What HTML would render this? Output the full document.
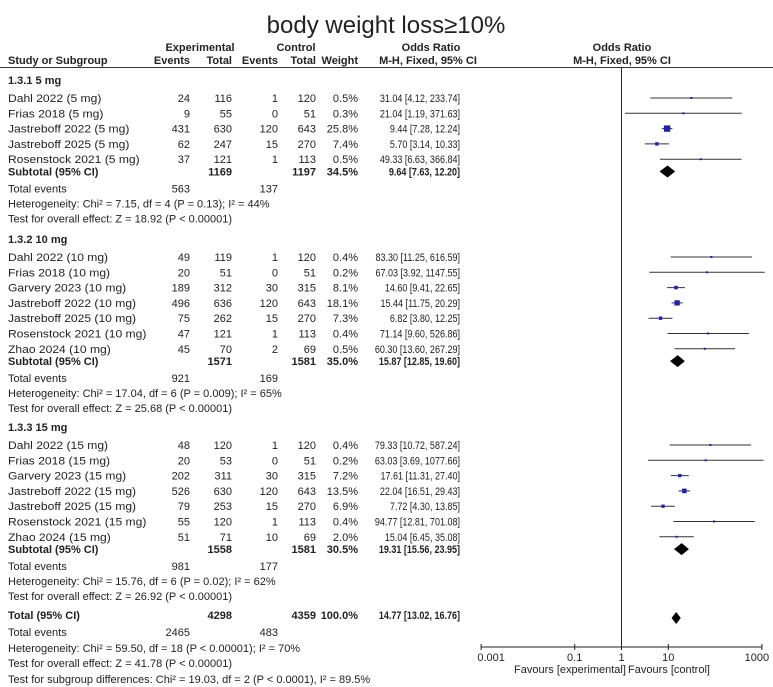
<!DOCTYPE html>
<html><head><meta charset="utf-8"><style>
body{margin:0;background:#fff;}
svg{display:block;font-family:"Liberation Sans",Arial,sans-serif;}
</style></head><body>
<svg id="c" width="773" height="687"></svg>
<script>
const groups=["1.3.1 5 mg","1.3.2 10 mg","1.3.3 15 mg"];
const studies=[
["Dahl 2022 (5 mg)","Frias 2018 (5 mg)","Jastreboff 2022 (5 mg)","Jastreboff 2025 (5 mg)","Rosenstock 2021 (5 mg)"],
["Dahl 2022 (10 mg)","Frias 2018 (10 mg)","Garvery 2023 (10 mg)","Jastreboff 2022 (10 mg)","Jastreboff 2025 (10 mg)","Rosenstock 2021 (10 mg)","Zhao 2024 (10 mg)"],
["Dahl 2022 (15 mg)","Frias 2018 (15 mg)","Garvery 2023 (15 mg)","Jastreboff 2022 (15 mg)","Jastreboff 2025 (15 mg)","Rosenstock 2021 (15 mg)","Zhao 2024 (15 mg)"]];
const expEvents=[[24,9,431,62,37],[49,20,189,496,75,47,45],[48,20,202,526,79,55,51]];
const expTotal=[[116,55,630,247,121],[119,51,312,636,262,121,70],[120,53,311,630,253,120,71]];
const ctlEvents=[[1,0,120,15,1],[1,0,30,120,15,1,2],[1,0,30,120,15,1,10]];
const ctlTotal=[[120,51,643,270,113],[120,51,315,643,270,113,69],[120,51,315,643,270,113,69]];
const weights=[[0.5,0.3,25.8,7.4,0.5],[0.4,0.2,8.1,18.1,7.3,0.4,0.5],[0.4,0.2,7.2,13.5,6.9,0.4,2.0]];
const orVal=[[31.04,21.04,9.44,5.70,49.33],[83.30,67.03,14.60,15.44,6.82,71.14,60.30],[79.33,63.03,17.61,22.04,7.72,94.77,15.04]];
const orLo=[[4.12,1.19,7.28,3.14,6.63],[11.25,3.92,9.41,11.75,3.80,9.60,13.60],[10.72,3.69,11.31,16.51,4.30,12.81,6.45]];
const orHi=[[233.74,371.63,12.24,10.33,366.84],[616.59,1147.55,22.65,20.29,12.25,526.86,267.29],[587.24,1077.66,27.40,29.43,13.85,701.08,35.08]];
const subExpTotal=[1169,1571,1558],subCtlTotal=[1197,1581,1581],subWeight=["34.5%","35.0%","30.5%"];
const subOR=[9.64,15.87,19.31],subLo=[7.63,12.85,15.56],subHi=[12.20,19.60,23.95];
const subExpEv=[563,921,981],subCtlEv=[137,169,177];
const hetText=["Heterogeneity: Chi² = 7.15, df = 4 (P = 0.13); I² = 44%","Heterogeneity: Chi² = 17.04, df = 6 (P = 0.009); I² = 65%","Heterogeneity: Chi² = 15.76, df = 6 (P = 0.02); I² = 62%"];
const testText=["Test for overall effect: Z = 18.92 (P < 0.00001)","Test for overall effect: Z = 25.68 (P < 0.00001)","Test for overall effect: Z = 26.92 (P < 0.00001)"];
const totOR=14.77,totLo=13.02,totHi=16.76;
const ticks=[0.001,0.1,1,10,1000];
const tickLabels=["0.001","0.1","1","10","1000"];

const svg=document.getElementById('c');const NS="http://www.w3.org/2000/svg";
function el(t,a,txt){const e=document.createElementNS(NS,t);for(const k in a)e.setAttribute(k,a[k]);if(txt!==undefined)e.textContent=txt;svg.appendChild(e);return e;}
function tx(x,y,s,o={}){
 const a={x:x,y:y,'font-size':o.fs||11,'text-anchor':o.a||'start','font-weight':o.b?'bold':'normal',fill:'#222'};
 if(o.sx){a.x=0;a.y=0;a.transform=`translate(${x},${y}) scale(${o.sx},1)`;}
 const e=el('text',a,s);
 return e;}
const X=v=>621.5+Math.log10(v)*46.8;
const XMIN=481,XMAX=762;
const f2=v=>v.toFixed(2);
function orText(y,s,b,n){tx(460,y,s,{a:'end',b:b,fs:11,sx:0.82,n:n});}
tx(386,33,"body weight loss≥10%",{fs:24,a:'middle',n:'chart-title'});
tx(200,51,"Experimental",{a:'middle',b:1,n:'header-experimental'});
tx(296,51,"Control",{a:'middle',b:1,n:'header-control'});
tx(431,51,"Odds Ratio",{a:'middle',b:1,n:'header-odds-ratio'});
tx(622,51,"Odds Ratio",{a:'middle',b:1,n:'header-plot-odds-ratio'});
tx(8,64,"Study or Subgroup",{b:1,n:'header-study'});
tx(190,64,"Events",{a:'end',b:1,n:'header-exp-events'});
tx(232,64,"Total",{a:'end',b:1,n:'header-exp-total'});
tx(278,64,"Events",{a:'end',b:1,n:'header-ctl-events'});
tx(316,64,"Total",{a:'end',b:1,n:'header-ctl-total'});
tx(358,64,"Weight",{a:'end',b:1,n:'header-weight'});
tx(428,64,"M-H, Fixed, 95% CI",{a:'middle',b:1,n:'header-mh'});
tx(622,64,"M-H, Fixed, 95% CI",{a:'middle',b:1,n:'header-plot-mh'});
let hl=el('line',{x1:0,x2:773,y1:67.5,y2:67.5,stroke:'#333','stroke-width':1});

let zl=el('line',{x1:X(1),x2:X(1),y1:67,y2:647,stroke:'#222','stroke-width':1});


function diamond(v,lo,hi,y,name){const p=el('polygon',{points:`${X(lo)},${y} ${X(v)},${y-6} ${X(hi)},${y} ${X(v)},${y+6}`,fill:'#000'});}
const groupTop=[80,239,427];
for(let g=0;g<3;g++){
 let y=groupTop[g];
 tx(8,y+4,groups[g],{b:1,n:'subgroup-heading'});
 y+=18;
 for(let i=0;i<studies[g].length;i++){
  tx(8,y+4,studies[g][i],{fs:11,sx:1.1,n:'study-name'});
  tx(190,y+4,expEvents[g][i],{a:'end',n:'exp-events'});
  tx(232,y+4,expTotal[g][i],{a:'end',n:'exp-total'});
  tx(278,y+4,ctlEvents[g][i],{a:'end',n:'ctl-events'});
  tx(316,y+4,ctlTotal[g][i],{a:'end',n:'ctl-total'});
  tx(358,y+4,weights[g][i].toFixed(1)+"%",{a:'end',n:'weight'});
  orText(y+4,`${f2(orVal[g][i])} [${f2(orLo[g][i])}, ${f2(orHi[g][i])}]`,0,'odds-ratio-ci');
  const x1=Math.max(XMIN,X(orLo[g][i])),x2=Math.min(XMAX+8,X(orHi[g][i]));
  const ln=el('line',{x1:x1,x2:x2,y1:y,y2:y,stroke:'#333','stroke-width':1});
  
  if(X(orHi[g][i])>XMAX+8){const a=el('polygon',{points:`${XMAX+11},${y} ${XMAX+5},${y-4} ${XMAX+5},${y+4}`,fill:'#222'});}
  const s=Math.max(2,Math.sqrt(weights[g][i])*1.25);
  const r=el('rect',{x:X(orVal[g][i])-s/2,y:y-s/2,width:s,height:s,fill:'#1f1fb0'});
  
  y+=15.3;
 }
 y-=3;
 tx(8,y+4,"Subtotal (95% CI)",{b:1,n:'subtotal-label'});
 tx(232,y+4,subExpTotal[g],{a:'end',b:1,n:'subtotal-exp-total'});
 tx(316,y+4,subCtlTotal[g],{a:'end',b:1,n:'subtotal-ctl-total'});
 tx(358,y+4,subWeight[g],{a:'end',b:1,n:'subtotal-weight'});
 orText(y+4,`${f2(subOR[g])} [${f2(subLo[g])}, ${f2(subHi[g])}]`,1,'subtotal-or');
 diamond(subOR[g],subLo[g]*0.85,subHi[g]*1.15,y,'subtotal-diamond');
 y+=17;
 tx(8,y+4,"Total events",{n:'total-events-label'});
 tx(190,y+4,subExpEv[g],{a:'end',n:'total-exp-events'});
 tx(278,y+4,subCtlEv[g],{a:'end',n:'total-ctl-events'});
 y+=15;tx(8,y+4,hetText[g],{n:'heterogeneity'});
 y+=15;tx(8,y+4,testText[g],{n:'overall-effect'});
}
tx(8,619,"Total (95% CI)",{b:1,n:'total-label'});
tx(232,619,"4298",{a:'end',b:1,n:'total-exp-total'});
tx(316,619,"4359",{a:'end',b:1,n:'total-ctl-total'});
tx(358,619,"100.0%",{a:'end',b:1,n:'total-weight'});
orText(619,`${f2(totOR)} [${f2(totLo)}, ${f2(totHi)}]`,1,'total-or');
diamond(totOR,totLo*0.9,totHi*1.1,618,'total-diamond');
tx(8,636,"Total events",{n:'overall-events-label'});
tx(190,636,"2465",{a:'end',n:'overall-exp-events'});
tx(278,636,"483",{a:'end',n:'overall-ctl-events'});
tx(8,652,"Heterogeneity: Chi² = 59.50, df = 18 (P < 0.00001); I² = 70%",{n:'overall-heterogeneity'});
tx(8,667,"Test for overall effect: Z = 41.78 (P < 0.00001)",{n:'total-overall-effect'});
tx(8,683,"Test for subgroup differences: Chi² = 19.03, df = 2 (P < 0.0001), I² = 89.5%",{n:'subgroup-differences'});
const ax=el('line',{x1:XMIN,x2:XMAX,y1:647,y2:647,stroke:'#222','stroke-width':1});

ticks.forEach((t,i)=>{
 const tk=el('line',{x1:X(t),x2:X(t),y1:644,y2:650,stroke:'#222'});
 
 tx(X(t)+(i==0?10:i==4?-5:0),661,tickLabels[i],{a:'middle',n:'x-tick-label'});
});
tx(570,673,"Favours [experimental]",{a:'middle',n:'favours-experimental'});
tx(669,673,"Favours [control]",{a:'middle',n:'favours-control'});
</script>
</body></html>
